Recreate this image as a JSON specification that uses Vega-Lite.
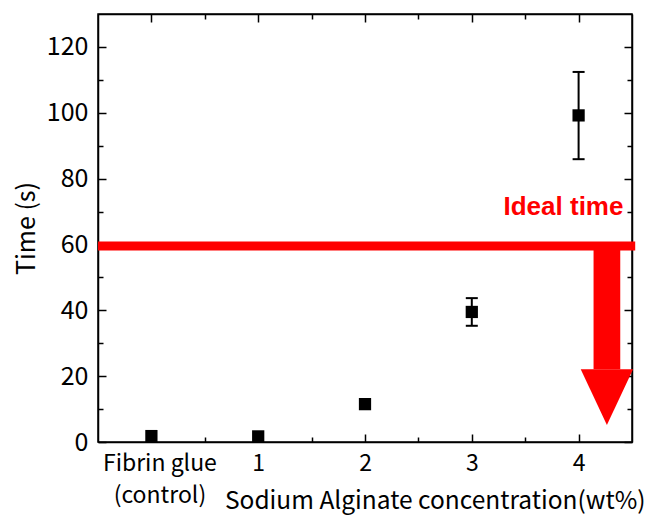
{
  "$schema": "https://vega.github.io/schema/vega-lite/v6.json",
  "width": 534,
  "height": 428,
  "autosize": "none",
  "padding": {"left": 98, "top": 14, "right": 29, "bottom": 74},
  "background": "white",
  "config": {
    "view": {"stroke": "black", "strokeWidth": 1.5},
    "font": "Noto Sans CJK JP",
    "axis": {
      "grid": false,
      "domainColor": "black",
      "domainWidth": 1.5,
      "tickColor": "black",
      "tickWidth": 1.5,
      "labelColor": "black",
      "titleColor": "black",
      "labelFontSize": 21,
      "titleFontSize": 21,
      "titleFontWeight": "normal",
      "labelFont": "Noto Sans CJK JP",
      "titleFont": "Noto Sans CJK JP"
    }
  },
  "datasets": {
    "pts": [
      {"pos": 0, "group": "Fibrin glue (control)", "time": 1.8},
      {"pos": 1, "group": "1", "time": 1.7},
      {"pos": 2, "group": "2", "time": 11.5},
      {"pos": 3, "group": "3", "time": 39.5},
      {"pos": 4, "group": "4", "time": 99.2}
    ],
    "errs": [
      {"pos": 3, "lo": 35.3, "hi": 43.7},
      {"pos": 4, "lo": 85.9, "hi": 112.4}
    ],
    "ideal": [{"x1": -0.5, "x2": 4.53, "y": 59.5}],
    "shaft": [{"x1": 4.14, "x2": 4.39, "y1": 22.1, "y2": 59.5}],
    "head": [
      {"x": 4.02, "y": 22.1, "y2": 22.1},
      {"x": 4.265, "y": 22.1, "y2": 5.2},
      {"x": 4.51, "y": 22.1, "y2": 22.1}
    ],
    "note": [{"x": 4.42, "y": 71.4, "text": "Ideal time"}]
  },
  "layer": [
    {
      "data": {"name": "ideal"},
      "mark": {"type": "rule", "color": "#ff0000", "strokeWidth": 9, "clip": false},
      "encoding": {
        "x": {"field": "x1", "type": "quantitative", "scale": {"domain": [-0.5, 4.5], "nice": false, "zero": false},
          "axis": {
            "orient": "top",
            "values": [0, 0.5, 1, 1.5, 2, 2.5, 3, 3.5, 4],
            "labels": false,
            "title": null,
            "tickSize": {"condition": {"test": "datum.value % 1 == 0", "value": -8}, "value": -5}
          }},
        "x2": {"field": "x2"},
        "y": {"field": "y", "type": "quantitative", "scale": {"domain": [0, 130], "nice": false},
          "axis": {
            "orient": "right",
            "values": [0, 10, 20, 30, 40, 50, 60, 70, 80, 90, 100, 110, 120],
            "labels": false,
            "title": null,
            "tickSize": {"condition": {"test": "datum.value % 20 == 0", "value": -8}, "value": -5}
          }}
      }
    },
    {
      "data": {"name": "shaft"},
      "mark": {"type": "rect", "color": "#ff0000"},
      "encoding": {
        "x": {"field": "x1", "type": "quantitative", "axis": null},
        "x2": {"field": "x2"},
        "y": {"field": "y1", "type": "quantitative", "axis": null},
        "y2": {"field": "y2"}
      }
    },
    {
      "data": {"name": "head"},
      "mark": {"type": "area", "color": "#ff0000", "orient": "vertical", "opacity": 1},
      "encoding": {
        "x": {"field": "x", "type": "quantitative", "axis": null},
        "y": {"field": "y", "type": "quantitative", "axis": null},
        "y2": {"field": "y2"}
      }
    },
    {
      "data": {"name": "note"},
      "mark": {"type": "text", "color": "#ff0000", "fontWeight": "bold", "fontSize": 26, "font": "Liberation Sans", "align": "right", "baseline": "middle"},
      "encoding": {
        "x": {"field": "x", "type": "quantitative", "axis": null},
        "y": {"field": "y", "type": "quantitative", "axis": null},
        "text": {"field": "text"}
      }
    },
    {
      "data": {"name": "errs"},
      "mark": {"type": "rule", "color": "black", "strokeWidth": 2},
      "encoding": {
        "x": {"field": "pos", "type": "quantitative", "axis": null},
        "y": {"field": "lo", "type": "quantitative", "axis": null},
        "y2": {"field": "hi"}
      }
    },
    {
      "data": {"name": "errs"},
      "mark": {"type": "tick", "color": "black", "orient": "horizontal", "size": 12, "thickness": 2, "opacity": 1},
      "encoding": {
        "x": {"field": "pos", "type": "quantitative", "axis": null},
        "y": {"field": "lo", "type": "quantitative", "axis": null}
      }
    },
    {
      "data": {"name": "errs"},
      "mark": {"type": "tick", "color": "black", "orient": "horizontal", "size": 12, "thickness": 2, "opacity": 1},
      "encoding": {
        "x": {"field": "pos", "type": "quantitative", "axis": null},
        "y": {"field": "hi", "type": "quantitative", "axis": null}
      }
    },
    {
      "data": {"name": "pts"},
      "mark": {"type": "point", "shape": "square", "filled": true, "color": "black", "size": 150, "opacity": 1},
      "encoding": {
        "x": {"field": "pos", "type": "quantitative",
          "axis": {
            "orient": "bottom",
            "values": [0, 0.5, 1, 1.5, 2, 2.5, 3, 3.5, 4],
            "labelExpr": "datum.value == 0 ? ['Fibrin glue', '(control)'] : (datum.value % 1 == 0 ? format(datum.value, 'd') : '')",
            "tickSize": {"condition": {"test": "datum.value % 1 == 0", "value": -8}, "value": -5},
            "labelOffset": {"condition": {"test": "datum.value == 0", "value": 8}, "value": 0},
            "labelPadding": 18,
            "labelFontSize": 23,
            "labelLineHeight": 32,
            "title": "Sodium Alginate concentration(wt%)",
            "titleFontSize": 24.5,
            "titleAnchor": "end",
            "titleAlign": "right",
            "titleBaseline": "alphabetic",
            "titleX": 547,
            "titleY": 66
          }},
        "y": {"field": "time", "type": "quantitative",
          "axis": {
            "orient": "left",
            "values": [0, 10, 20, 30, 40, 50, 60, 70, 80, 90, 100, 110, 120],
            "labelExpr": "datum.value % 20 == 0 ? datum.label : ''",
            "tickSize": {"condition": {"test": "datum.value % 20 == 0", "value": -8}, "value": -5},
            "labelPadding": 18,
            "labelFontSize": 25,
            "title": "Time (s)",
            "titleFontSize": 25,
            "titlePadding": 7
          }}
      }
    }
  ],
  "resolve": {"axis": {"x": "independent", "y": "independent"}}
}
